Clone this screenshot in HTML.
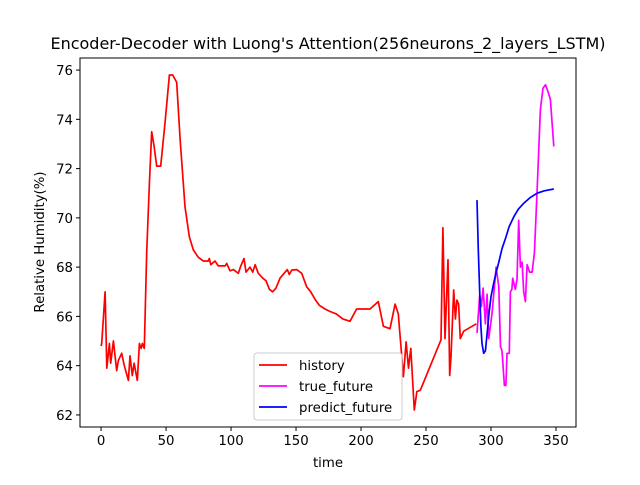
<!DOCTYPE html>
<html><head><meta charset="utf-8"><style>
body{margin:0;background:#fff}
svg text{font-family:"DejaVu Sans","Liberation Sans",sans-serif;fill:#000}
</style></head><body>
<svg id="chart" width="640" height="480" xmlns="http://www.w3.org/2000/svg">
<rect width="640" height="480" fill="#fff"/>
<g id="marks"></g>
<rect x="80" y="58" width="496" height="369" fill="none" stroke="#000" stroke-width="1"/>
<g id="axes"></g>
<text x="328" y="49" font-size="16" text-anchor="middle">Encoder-Decoder with Luong's Attention(256neurons_2_layers_LSTM)</text>
<text x="328" y="467" font-size="13.3" text-anchor="middle">time</text>
<text x="44" y="242" font-size="13.3" text-anchor="middle" transform="rotate(-90 44 242)">Relative Humidity(%)</text>
<g>
<rect x="254" y="353" width="148" height="67" rx="3" fill="#fff" fill-opacity="0.8" stroke="#ccc"/>
<g><line x1="259" x2="287" y1="365" y2="365" stroke="#f00" stroke-width="1.7"/><text x="299" y="370" font-size="13.3">history</text></g>
<g><line x1="259" x2="287" y1="386" y2="386" stroke="#f0f" stroke-width="1.7"/><text x="299" y="391" font-size="13.3">true_future</text></g>
<g><line x1="259" x2="287" y1="407" y2="407" stroke="#00f" stroke-width="1.7"/><text x="299" y="412" font-size="13.3">predict_future</text></g>
</g>
</svg>
<script>
const historyX=[0,0.5,3.1,4.4,6.4,7.4,9.5,12,13.3,15.9,17.9,21,22.3,24,25.4,27.9,29.5,30.8,31.8,33.3,35.1,37.2,39,40.8,42.8,45.9,49.2,52.6,55.1,58.2,60.8,64.6,67.9,71,74.8,78.7,82.5,83.3,84.4,87.7,90.2,95.4,96.7,99.2,101.8,105.6,107.5,110,111.5,114.6,116.7,118.5,121,124.4,126.9,129.5,132,134.6,137.7,140.8,143.3,144.8,146.7,150.5,154.4,158.2,161.3,164.6,167.9,172.3,176.2,181,186,191.5,196.6,206.9,213.3,217.2,222.3,226.2,228.7,232.6,234.7,236.5,238.3,241,243,245.6,261.5,263,264.6,266.9,268.2,269.2,271.3,272.6,273.8,275.1,276.4,279,288.7];
const historyY=[64.8,64.9,67.0,63.9,64.9,64.1,65.0,63.8,64.2,64.5,64.0,63.4,64.4,63.6,64.1,63.4,64.9,64.7,64.9,64.7,68.6,71.4,73.5,72.9,72.1,72.1,73.85,75.8,75.8,75.5,73.2,70.45,69.24,68.7,68.4,68.25,68.25,68.35,68.1,68.25,68.05,68.05,68.15,67.85,67.9,67.75,68.05,68.35,67.8,68.0,67.8,68.1,67.75,67.55,67.45,67.1,67.0,67.15,67.55,67.75,67.9,67.7,67.88,67.9,67.75,67.2,67.0,66.7,66.45,66.3,66.2,66.1,65.9,65.8,66.3,66.3,66.6,65.6,65.5,66.5,66.1,63.55,64.97,63.9,64.7,62.2,62.95,63.0,65.05,69.6,65.1,68.3,63.6,64.36,67.07,65.9,66.66,66.5,65.1,65.4,65.7];
const trueX=[289.2,291.3,292.6,293.9,295.7,297,298.2,300.8,302.6,303.9,306,307.3,308.5,310.3,311.5,312.3,314.1,314.9,316.1,316.7,318.7,320,321.3,322.6,323.9,325.2,326.5,327.8,329.8,331.6,333.4,335.4,338,340,341.9,344,345.7,348.3];
const trueY=[65.33,66.87,66.4,67.15,65.7,66.9,65.1,66.1,67.2,68.0,67.2,64.77,64.6,63.2,63.2,64.5,64.5,67.0,67.1,67.55,67.1,67.5,69.9,68.0,68.2,67.0,66.6,68.1,67.8,67.8,68.57,71.0,74.4,75.27,75.4,75.1,74.8,72.9];
const predX=[289.2,290.2,291.3,292.2,293.1,294.4,295.7,297,298.2,300,302.1,304,306,308.5,311.2,314,317.6,321,325.3,330,335.5,341,348.3];
const predY=[70.72,68.7,67.0,65.6,64.9,64.5,64.6,65.3,66.0,66.8,67.35,67.8,68.2,68.75,69.18,69.65,70.05,70.35,70.6,70.82,71.0,71.1,71.17];
const xTicks=[0,50,100,150,200,250,300,350];
const yTicks=[62,64,66,68,70,72,74,76];
const xMin=-16.2,xMax=365.4,yMin=61.51,yMax=76.49;
const L=80,R=576,T=58,B=427;
function sx(v){return L+(v-xMin)/(xMax-xMin)*(R-L);}
function sy(v){return B-(v-yMin)/(yMax-yMin)*(B-T);}
const NS="http://www.w3.org/2000/svg";
const marks=document.getElementById('marks'),axes=document.getElementById('axes');
function line(xs,ys,color,name){
  const p=document.createElementNS(NS,'polyline');
  p.setAttribute('points',xs.map((x,i)=>sx(x).toFixed(1)+','+sy(ys[i]).toFixed(1)).join(' '));
  p.setAttribute('fill','none');p.setAttribute('stroke',color);p.setAttribute('stroke-width','1.7');
  p.setAttribute('stroke-linejoin','round');
  
  
  marks.appendChild(p);
}
line(historyX,historyY,'#f00','history-line');
line(trueX,trueY,'#f0f','true-future-line');
line(predX,predY,'#00f','predict-future-line');
xTicks.forEach(t=>{
  const x=sx(t);
  const l=document.createElementNS(NS,'line');
  l.setAttribute('x1',x);l.setAttribute('x2',x);l.setAttribute('y1',B);l.setAttribute('y2',B+4);l.setAttribute('stroke','#000');
  
  
  axes.appendChild(l);
  const s=document.createElementNS(NS,'text');
  s.setAttribute('x',x);s.setAttribute('y',B+18);s.setAttribute('font-size','13.3');s.setAttribute('text-anchor','middle');
  s.textContent=t;
  
  
  axes.appendChild(s);
});
yTicks.forEach(t=>{
  const y=sy(t);
  const l=document.createElementNS(NS,'line');
  l.setAttribute('x1',L-4);l.setAttribute('x2',L);l.setAttribute('y1',y);l.setAttribute('y2',y);l.setAttribute('stroke','#000');
  
  
  axes.appendChild(l);
  const s=document.createElementNS(NS,'text');
  s.setAttribute('x',L-7);s.setAttribute('y',y+5);s.setAttribute('font-size','13.3');s.setAttribute('text-anchor','end');
  s.textContent=t;
  
  
  axes.appendChild(s);
});
</script>
</body></html>
